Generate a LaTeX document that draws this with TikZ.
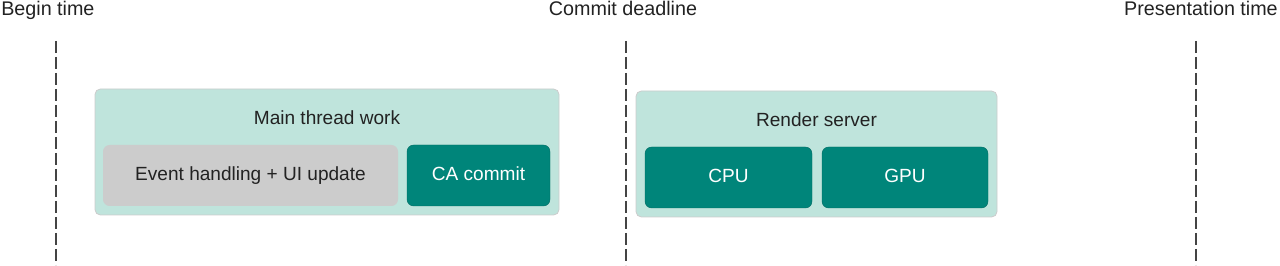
\documentclass[tikz,border=0pt]{standalone}
\usepackage{fontspec}
\setmainfont{Liberation Sans}
\definecolor{lightteal}{HTML}{BFE4DC}
\definecolor{darkteal}{HTML}{00857A}
\definecolor{lgray}{HTML}{CCCCCC}
\definecolor{txt}{HTML}{222222}
\definecolor{dash}{HTML}{444444}
\begin{document}
\begin{tikzpicture}[x=0.75pt,y=-0.75pt,
  every node/.style={font=\fontsize{14.3pt}{17pt}\selectfont, text=txt, inner sep=0pt, anchor=base},
  toplbl/.style={font=\fontsize{14.8pt}{17pt}\selectfont},
  outerbox/.style={draw=black!20, line width=0.6pt, fill=lightteal, rounded corners=4pt},
  graybox/.style={fill=lgray, rounded corners=5pt},
  tealbox/.style={fill=darkteal, rounded corners=5pt, draw=darkteal!80!black, line width=0.3pt},
  timeline/.style={draw=dash, line width=1.1pt, dash pattern=on 9pt off 3pt}]
\useasboundingbox (0,0) rectangle (1280,266);
% time labels
\node[toplbl, anchor=base west] (tb) at (1,16) {Begin time};
\node[toplbl] (tc) at (623,16) {Commit deadline};
\node[toplbl, anchor=base east] (tp) at (1278,16) {Presentation time};
% dashed lines
\coordinate (b1) at (56,41); \coordinate (b2) at (56,265);
\coordinate (c1) at (626,41); \coordinate (c2) at (626,265);
\coordinate (p1) at (1196,41); \coordinate (p2) at (1196,265);
\draw[timeline] (b1) -- (b2);
\draw[timeline] (c1) -- (c2);
\draw[timeline] (p1) -- (p2);
% main thread
\draw[outerbox] (95,89) rectangle (559,215);
\node (mt) at (327,125) {Main thread work};
\fill[graybox] (103,145) rectangle (398,206);
\node (ev) at (250.5,181) {Event handling + UI update};
\path[tealbox] (407,145) rectangle (550,206);
\node[text=white] (ca) at (478.5,181) {CA commit};
% render server
\draw[outerbox] (636,91) rectangle (997,217);
\node (rs) at (816.5,127) {Render server};
\path[tealbox] (645,147) rectangle (812,208);
\node[text=white] (cpu) at (728.5,183) {CPU};
\path[tealbox] (822,147) rectangle (988,208);
\node[text=white] (gpu) at (905,183) {GPU};
\end{tikzpicture}
\end{document}
